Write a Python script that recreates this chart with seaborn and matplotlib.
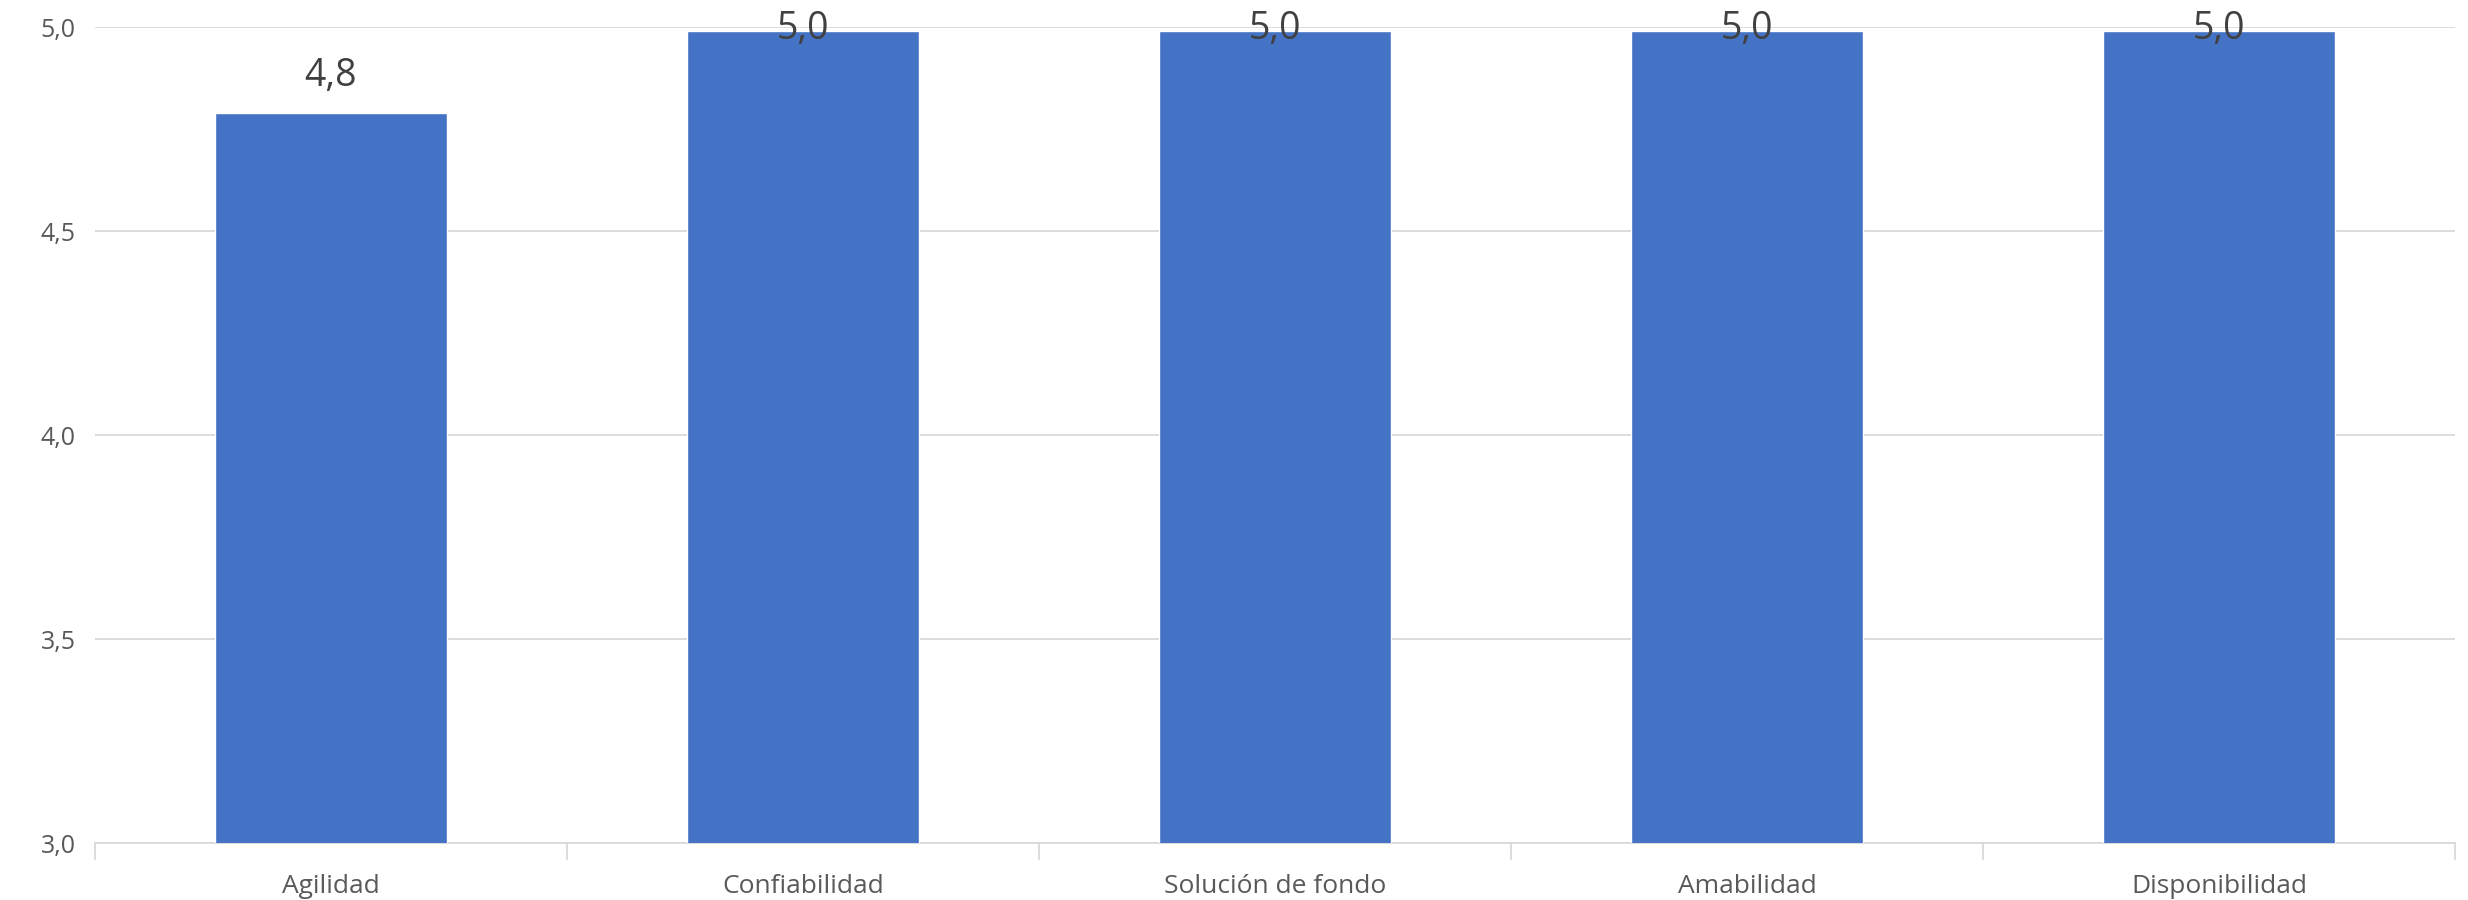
import numpy as np
import pandas as pd
import seaborn as sns
import matplotlib.pyplot as plt

# Valores por dimensión
categorias = ["Agilidad", "Confiabilidad", "Solución de fondo", "Amabilidad", "Disponibilidad"]
valores = [4.79, 4.99, 4.99, 4.99, 4.99]
etiquetas = ["4,8", "5,0", "5,0", "5,0", "5,0"]
y_ticks = [3.0, 3.5, 4.0, 4.5, 5.0]
y_labels = ["3,0", "3,5", "4,0", "4,5", "5,0"]

df = pd.DataFrame({"Dimension": categorias, "Valor": valores})

sns.set_style("white")
plt.rcParams['font.family'] = ['Open Sans', 'DejaVu Sans']

fig = plt.figure(figsize=(24.68, 9), dpi=100)
ax = fig.add_axes([0.0385, 0.0633, 0.9562, 0.9067])

sns.barplot(data=df, x="Dimension", y="Valor", order=categorias,
            color="#4472C4", saturation=1, width=0.49, ax=ax, zorder=3)

ax.set_ylim(3.0, 5.0)
ax.set_xlim(-0.5, len(categorias) - 0.5)
ax.set_yticks(y_ticks)
ax.set_yticklabels(y_labels, fontsize=18, color="#595959")
ax.set_xticks(range(len(categorias)))
ax.set_xticklabels(categorias, fontsize=19, color="#595959")
ax.set_xticks(np.arange(-0.5, len(categorias), 1.0), minor=True)
ax.tick_params(axis="x", which="major", length=0, pad=22)
ax.tick_params(axis="x", which="minor", bottom=True, length=12,
               color="#D9D9D9", width=1.3, direction="out")
ax.tick_params(axis="y", length=0, pad=14)

ax.yaxis.grid(True, color="#D9D9D9", linewidth=1.3, zorder=0)
ax.set_axisbelow(True)
for s in ["top", "right", "left"]:
    ax.spines[s].set_visible(False)
ax.spines["bottom"].set_color("#D9D9D9")
ax.spines["bottom"].set_linewidth(1.3)
ax.set_xlabel("")
ax.set_ylabel("")

# etiquetas de datos (recortadas al borde superior como en Excel)
for i, (v, t) in enumerate(zip(valores, etiquetas)):
    y = min(v + 0.09, 4.995)
    ax.text(i, y, t, ha="center", va="center", fontsize=27, color="#404040",
            clip_on=False, zorder=4)

plt.savefig("out.png", dpi=100)
